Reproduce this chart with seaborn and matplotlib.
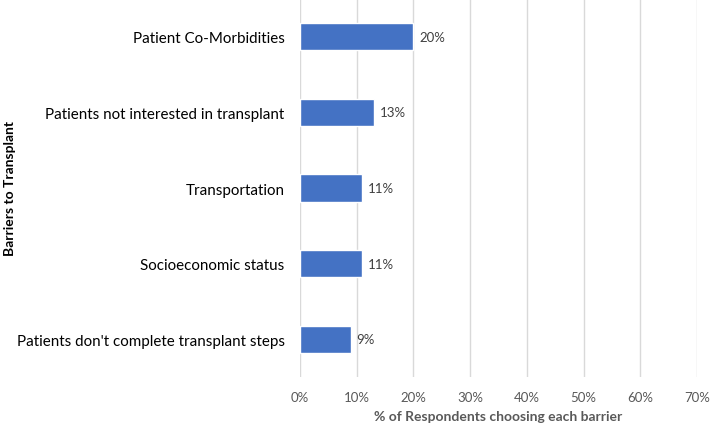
import matplotlib
matplotlib.use("Agg")
import matplotlib.pyplot as plt
import seaborn as sns
import pandas as pd
from matplotlib.ticker import PercentFormatter

# Barrier categories and share of respondents (%)
barriers = [
    "Patient Co-Morbidities",
    "Patients not interested in transplant",
    "Transportation",
    "Socioeconomic status",
    "Patients don't complete transplant steps",
]
percents = [20, 13, 11, 11, 9]
bar_labels = ["20%", "13%", "11%", "11%", "9%"]
x_ticks = [0, 10, 20, 30, 40, 50, 60, 70]

df = pd.DataFrame({"barrier": barriers, "pct": percents})

sns.set_style("white")
plt.rcParams["font.family"] = ["Lato", "DejaVu Sans"]

fig = plt.figure(figsize=(7.14, 4.27), dpi=100)
ax = fig.add_axes([300 / 714, 1 - 378 / 427, 397 / 714, 378 / 427])

sns.barplot(data=df, x="pct", y="barrier", color="#4472C4", width=0.36,
            saturation=1, ax=ax, zorder=3)

for i, (v, lab) in enumerate(zip(percents, bar_labels)):
    ax.text(v + 1.0, i, lab, va="center", ha="left", fontsize=9.5, color="#404040")

ax.set_xlim(0, 70)
ax.set_ylim(4.5, -0.5)
ax.set_xticks(x_ticks)
ax.xaxis.set_major_formatter(PercentFormatter(decimals=0))
ax.grid(axis="x", color="#D9D9D9", linewidth=1, zorder=0)
for s in ax.spines.values():
    s.set_visible(False)
ax.tick_params(axis="x", colors="#595959", labelsize=9.5, length=0, pad=10)
ax.tick_params(axis="y", colors="black", labelsize=10.9, length=0, pad=11)

ax.set_xlabel("% of Respondents choosing each barrier", fontsize=10,
              fontweight="bold", color="#595959", labelpad=5)
ax.set_ylabel("Barriers to Transplant", fontsize=10, fontweight="bold",
              color="black", va="center")
ax.yaxis.set_label_coords(-290 / 397, 0.5)

fig.savefig("out.png", dpi=100)
